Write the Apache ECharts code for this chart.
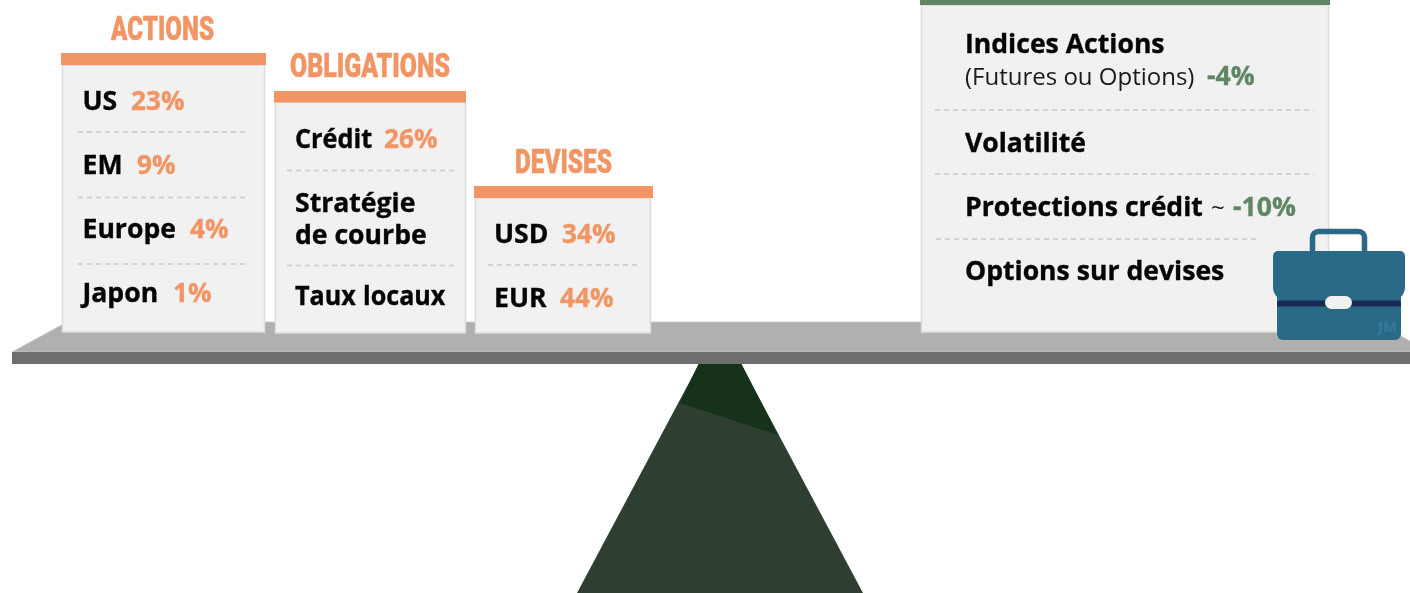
<!DOCTYPE html>
<html><head><meta charset="utf-8">
<style>html,body{margin:0;padding:0;background:#fff}#c{width:1410px;height:593px}</style>
<script src="https://cdn.jsdelivr.net/npm/echarts@6/dist/echarts.min.js"></script>
</head><body><div id="c"></div>
<script>
// ---- data ----
const actionsLabels = ['US', 'EM', 'Europe', 'Japon'];
const actionsValues = [23, 9, 4, 1];
const obligationsLabels = ['Crédit', 'Stratégie\nde courbe', 'Taux locaux'];
const obligationsValues = [26, null, null];
const devisesLabels = ['USD', 'EUR'];
const devisesValues = [34, 44];
const hedgeLabels = ['Indices Actions', 'Volatilité', 'Protections crédit', 'Options sur devises'];
const hedgeNotes = ['(Futures ou Options)', '', '~', ''];
const hedgeValues = [-4, null, -10, null];
const blockTitles = ['ACTIONS', 'OBLIGATIONS', 'DEVISES'];
const watermark = 'JM';

// ---- layout & style (page pixels through the hidden axes) ----
const ORANGE = '#f29565', GREEN = '#5f8763', INK = '#050505';
const FONT = '"Open Sans"';
const SIZE = 26.6;
const TITLE_FONT = '900 34px Roboto';
const measure = document.createElement('canvas').getContext('2d');
const panels = [
  {title: 0, cx: 162.5, ty: 31.5, tw: 103, bar: [61, 53, 205, 12], box: [62.5, 65, 202, 267],
   labels: actionsLabels, values: actionsValues, x: 82.5, base: [110, 174, 238, 302], vx: [131, 137, 190, 173],
   dash: [[78, 247, 132], [78, 247, 197.5], [78, 247, 264]]},
  {title: 1, cx: 370, ty: 68.5, tw: 160, bar: [274, 91, 192, 11.5], box: [275.5, 102, 190, 231],
   labels: obligationsLabels, values: obligationsValues, x: 295, base: [148, 212, 305], vx: [384, 0, 0],
   wordX: [0, 0, 363], rowScale: [0.95, 1, 0.945],
   dash: [[287, 455, 170.5], [287, 455, 265.5]]},
  {title: 2, cx: 563.5, ty: 164.5, tw: 97, bar: [474, 186, 179, 12], box: [475.5, 198, 175, 135],
   labels: devisesLabels, values: devisesValues, x: 494, base: [243, 307], vx: [562, 560],
   dash: [[488, 640, 265]]}
];
const hedge = {bar: [920, 0, 410, 5], box: [921.5, 5, 407, 327], x: 965, base: [53, 152, 216, 280],
  noteBase: 85, noteX: [965, 0, 1211, 0], vx: [1207, 0, 1233, 0], vb: [85, 0, 216, 0],
  dash: [[935, 1314, 110], [935, 1314, 174], [936, 1259, 239]]};

const chart = echarts.init(document.getElementById('c'), null, {renderer: 'canvas'});

function pts(api, list) { return list.map(p => api.coord(p)); }
function rect(api, r, fill, stroke, extra) {
  const a = api.coord([r[0], r[1]]), b = api.coord([r[0] + r[2], r[1] + r[3]]);
  return {type: 'rect', shape: Object.assign({x: a[0], y: a[1], width: b[0] - a[0], height: b[1] - a[1]}, extra || {}),
    style: {fill: fill, stroke: stroke || null, lineWidth: stroke ? 1.5 : 0}};
}
function txt(api, s, x, base, size, weight, color, sx) {
  const p = api.coord([x, base - 0.29 * size]);
  const el = {type: 'text', x: p[0], y: p[1], scaleX: sx || 1, style: {text: s, fill: color, align: 'left', verticalAlign: 'middle',
    font: weight + ' ' + size + 'px ' + FONT}};
  if (weight === 'bold') { el.style.stroke = color; el.style.lineWidth = 0.35; }
  return el;
}
function dash(api, d) {
  const a = api.coord([d[0], d[2]]), b = api.coord([d[1], d[2]]);
  return {type: 'line', shape: {x1: a[0], y1: a[1], x2: b[0], y2: b[1]},
    style: {stroke: '#c9c9c9', lineWidth: 1.3, lineDash: [5, 4], fill: null}};
}
const pct = v => v + '%';

function renderScene(params, api) {
  return {type: 'group', children: [
    {type: 'polygon', shape: {points: pts(api, [[699, 364], [741, 364], [863, 593], [577, 593]])}, style: {fill: '#2e3f31'}},
    {type: 'polygon', shape: {points: pts(api, [[699, 363], [741, 363], [778, 435], [680, 403]])}, style: {fill: '#16321b'}},
    {type: 'polygon', shape: {points: pts(api, [[12, 352], [67, 322], [1375, 322], [1430, 352]])},
      style: {fill: '#b0b0b0', stroke: '#c9c9c9', lineWidth: 0.8}},
    rect(api, [12, 352, 1398, 12], '#6e6e6e')
  ]};
}
function renderPanel(params, api) {
  const P = panels[params.dataIndex], kids = [];
  kids.push(rect(api, P.box, '#f1f1f1', '#dcdcdc'));
  kids.push(rect(api, P.bar, ORANGE));
  const c = api.coord([P.cx, P.ty]);
  measure.font = TITLE_FONT;
  const title = blockTitles[P.title];
  kids.push({type: 'text', x: c[0], y: c[1], scaleX: P.tw / measure.measureText(title).width,
    style: {text: title, fill: ORANGE, align: 'center', verticalAlign: 'middle', font: TITLE_FONT, stroke: ORANGE, lineWidth: 0.5}});
  P.dash.forEach(d => kids.push(dash(api, d)));
  P.labels.forEach((l, i) => {
    const sx = P.rowScale ? P.rowScale[i] : 1;
    if (P.wordX && P.wordX[i]) {
      l.split(' ').forEach((w, k) => kids.push(txt(api, w, k ? P.wordX[i] : P.x, P.base[i], SIZE, 'bold', INK, sx)));
    } else {
      l.split('\n').forEach((s, k) => kids.push(txt(api, s, P.x, P.base[i] + (k ? 32 : 0), SIZE, 'bold', INK, sx)));
    }
    if (P.values[i] != null) kids.push(txt(api, pct(P.values[i]), P.vx[i], P.base[i], SIZE - 0.4, 'bold', ORANGE));
  });
  return {type: 'group', children: kids};
}
function renderHedge(params, api) {
  const H = hedge, kids = [rect(api, H.box, '#f1f1f1', '#dcdcdc'), rect(api, H.bar, GREEN)];
  H.dash.forEach(d => kids.push(dash(api, d)));
  hedgeLabels.forEach((l, i) => {
    kids.push(txt(api, l, H.x, H.base[i], SIZE, 'bold', INK));
    if (hedgeNotes[i]) kids.push(txt(api, hedgeNotes[i], H.noteX[i], i ? H.base[i] : H.noteBase, 24, 'normal', '#1a1a1a'));
    if (hedgeValues[i] != null) kids.push(txt(api, pct(hedgeValues[i]), H.vx[i], H.vb[i], SIZE, 'bold', GREEN));
  });
  return {type: 'group', children: kids};
}
function renderCase(params, api) {
  const BLUE = '#2a6a87';
  const handle = rect(api, [1312.5, 231.5, 52, 30], 'rgba(0,0,0,0)', BLUE, {r: 6});
  handle.style.lineWidth = 5.5;
  return {type: 'group', children: [
    handle,
    rect(api, [1277, 290, 124, 50], BLUE, null, {r: [0, 0, 6, 6]}),
    rect(api, [1273, 251, 132, 50], BLUE, null, {r: [5, 5, 14, 14]}),
    rect(api, [1277, 300.5, 124, 6], '#1a2a55', null, {r: [3, 3, 0, 0]}),
    rect(api, [1325, 296, 27, 13], '#f1f1f1', null, {r: 6.5}),
    txt(api, watermark, 1378, 332, 15, 'bold', '#35789a')
  ]};
}
const axis = (max, inverse) => ({type: 'value', min: 0, max: max, inverse: inverse, show: false});
chart.setOption({
  animation: false,
  backgroundColor: '#fff',
  grid: {left: 0, right: 0, top: 0, bottom: 0},
  xAxis: axis(1410, false),
  yAxis: axis(593, true),
  series: [
    {type: 'custom', name: 'Balance', data: [[0, 0]], renderItem: renderScene, silent: true, clip: true},
    {type: 'custom', name: 'Long', data: panels.map(p => [p.cx, p.ty]), renderItem: renderPanel, silent: true, clip: true},
    {type: 'custom', name: 'Couvertures', data: [[hedge.x, 0]], renderItem: renderHedge, silent: true, clip: true},
    {type: 'custom', name: 'Mallette', data: [[1339, 290]], renderItem: renderCase, silent: true, clip: true}
  ]
});
</script></body></html>
